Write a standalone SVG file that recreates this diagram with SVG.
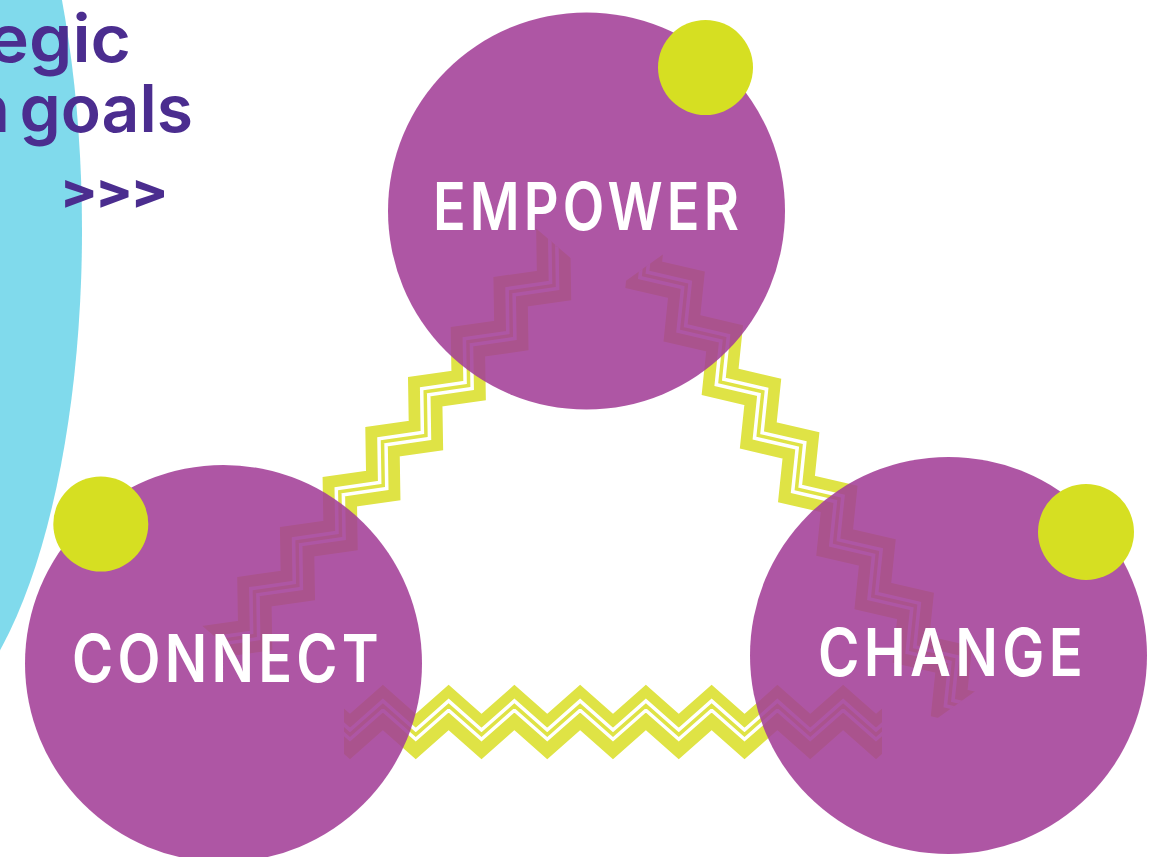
<svg xmlns="http://www.w3.org/2000/svg" xmlns:xlink="http://www.w3.org/1999/xlink" width="1166" height="857" viewBox="0 0 1166 857">
  <style>
    .zz{fill:none;stroke-linejoin:miter;stroke-miterlimit:10;stroke-linecap:butt}
    .zy{stroke:#dfe345;stroke-width:34}
    .zw{stroke:#ffffff;stroke-width:10.5}
    .zt{stroke:#dfe345;stroke-width:3.5}
    .bubble{fill:#a33f97;fill-opacity:0.88}
    .dot{fill:#d6df22}
    .label{font-family:Inter,"Noto Sans","Liberation Sans",sans-serif;font-weight:600;font-size:66px;fill:#ffffff;letter-spacing:5px}
    .title{font-family:Inter,"Noto Sans","Liberation Sans",sans-serif;font-weight:600;font-size:66px;fill:#4b2d8f}
  </style>
  <defs>
    <path id="zzpath" class="zz" d="M-328.75,14.5 l32.875,-29 32.875,29 32.875,-29 32.875,29 32.875,-29 32.875,29 32.875,-29 32.875,29 32.875,-29 32.875,29 32.875,-29 32.875,29 32.875,-29 32.875,29 32.875,-29 32.875,29 32.875,-29 32.875,29 32.875,-29 32.875,29 32.875,-29 32.875,29 32.875,-29 32.875,29 32.875,-29 32.875,29 32.875,-29 32.875,29"/>
    <clipPath id="clipBottom"><rect x="-6" y="-60" width="538" height="120"/></clipPath>
    <clipPath id="clipLeft"><rect x="-290" y="-60" width="519" height="120"/></clipPath>
    <clipPath id="clipRight"><rect x="-137" y="-60" width="537" height="120"/></clipPath>
  </defs>

  <rect x="0" y="0" width="1166" height="857" fill="#ffffff"/>

  <!-- background cyan shape and heading text -->
  <g id="heading">
    <ellipse cx="-97" cy="230" rx="179" ry="500" fill="#80daec"/>
    <text class="title" x="-12" y="62" textLength="143" lengthAdjust="spacingAndGlyphs">egic</text>
    <text class="title" x="193" y="132" text-anchor="end" word-spacing="-7">n goals</text>
    <text x="60" y="208" textLength="106" lengthAdjust="spacingAndGlyphs" style="font-family:Inter,'Noto Sans','Liberation Sans',sans-serif;font-weight:800;font-size:48px;fill:#4b2d8f;letter-spacing:-2px">&gt;&gt;&gt;</text>
  </g>

  <!-- connectors -->
  <g id="connectors">
    <g id="conn-empower-connect" transform="translate(414.9,426.1) rotate(-49.5)">
      <g clip-path="url(#clipLeft)">
        <use xlink:href="#zzpath" class="zy"/>
        <use xlink:href="#zzpath" class="zw"/>
        <use xlink:href="#zzpath" class="zt"/>
      </g>
    </g>
    <g id="conn-empower-change" transform="translate(731.9,373.5) rotate(54.5)">
      <g clip-path="url(#clipRight)">
        <use xlink:href="#zzpath" class="zy"/>
        <use xlink:href="#zzpath" class="zw"/>
        <use xlink:href="#zzpath" class="zt"/>
      </g>
    </g>
    <g id="conn-connect-change" transform="translate(350,722)">
      <g clip-path="url(#clipBottom)">
        <use xlink:href="#zzpath" class="zy"/>
        <g transform="translate(0,-1.9)">
          <use xlink:href="#zzpath" class="zw"/>
          <use xlink:href="#zzpath" class="zt"/>
        </g>
      </g>
    </g>
  </g>

  <!-- nodes -->
  <g id="node-empower">
    <circle class="bubble" cx="586.5" cy="211" r="198.5"/>
    <circle class="dot" cx="705.5" cy="67.5" r="47.5"/>
    <text class="label" x="433" y="230" textLength="310" lengthAdjust="spacingAndGlyphs">EMPOWER</text>
  </g>
  <g id="node-connect">
    <circle class="bubble" cx="223.5" cy="663.5" r="198.5"/>
    <circle class="dot" cx="100.8" cy="524" r="47.5"/>
    <text class="label" x="72" y="682" textLength="311" lengthAdjust="spacingAndGlyphs">CONNECT</text>
  </g>
  <g id="node-change">
    <circle class="bubble" cx="948.5" cy="655.5" r="198.5"/>
    <circle class="dot" cx="1086" cy="532" r="48"/>
    <text class="label" x="818" y="676" textLength="269" lengthAdjust="spacingAndGlyphs">CHANGE</text>
  </g>
</svg>
